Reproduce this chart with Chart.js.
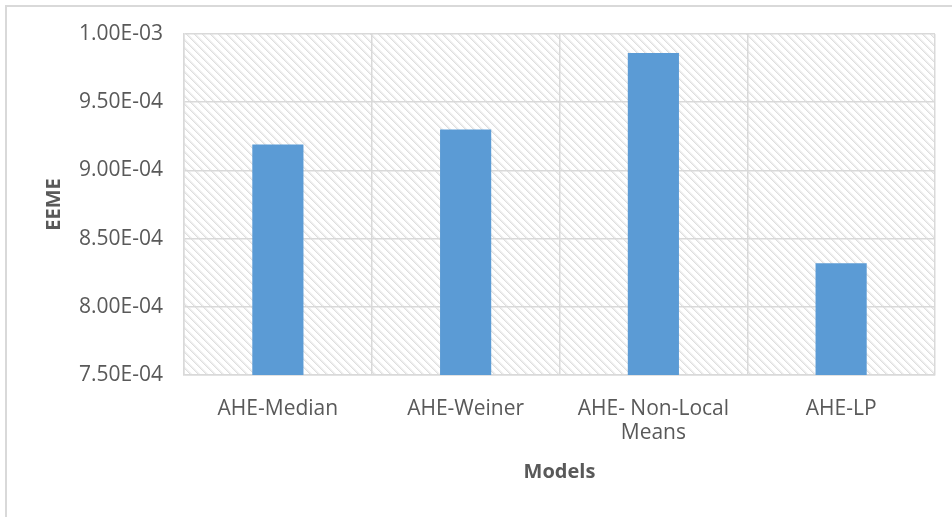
<!DOCTYPE html>
<html>
<head>
<meta charset="utf-8">
<script src="https://cdn.jsdelivr.net/npm/chart.js@4"></script>
<style>
  html, body { margin: 0; padding: 0; background: #fff; }
  #wrap { position: relative; width: 952px; height: 517px; }
  #frame { position: absolute; left: 5px; top: 5px; width: 960px; height: 530px; border: 2px solid #d9d9d9; box-sizing: border-box; pointer-events: none; }
</style>
</head>
<body>
<div id="wrap">
  <canvas id="c" width="952" height="517"></canvas>
  <div id="frame"></div>
</div>
<script>
// Models compared and their EEME scores
const models = ['AHE-Median', 'AHE-Weiner', ['AHE- Non-Local', 'Means'], 'AHE-LP'];
const eemeValues = [9.19e-4, 9.30e-4, 9.86e-4, 8.32e-4];
const yTicks = [7.5e-4, 8.0e-4, 8.5e-4, 9.0e-4, 9.5e-4, 1.0e-3];

const textColor = '#595959';
const gridColor = '#d9d9d9';
const fontFamily = '"Open Sans", "Liberation Sans", sans-serif';

// Downward diagonal hatch used as plot-area fill
function makeHatch() {
  const size = 8;
  const pc = document.createElement('canvas');
  pc.width = size; pc.height = size;
  const p = pc.getContext('2d');
  p.fillStyle = '#ffffff';
  p.fillRect(0, 0, size, size);
  for (let y = 0; y < size; y++) {
    for (let x = 0; x < size; x++) {
      const d = ((x - y) % size + size) % size;
      if (d === 0) { p.fillStyle = '#dedede'; p.fillRect(x, y, 1, 1); }
      else if (d === 1) { p.fillStyle = ((x + y) % 2 === 0) ? '#e2e2e2' : '#eeeeee'; p.fillRect(x, y, 1, 1); }
      else if (d === 2) { p.fillStyle = '#f3f3f3'; p.fillRect(x, y, 1, 1); }
    }
  }
  return pc;
}

const hatchBackground = {
  id: 'hatchBackground',
  beforeDraw(chart) {
    const { ctx, chartArea: a } = chart;
    ctx.save();
    ctx.fillStyle = ctx.createPattern(makeHatch(), 'repeat');
    ctx.fillRect(a.left, a.top, a.right - a.left, a.bottom - a.top);
    ctx.restore();
  }
};

new Chart(document.getElementById('c'), {
  type: 'bar',
  data: {
    labels: models,
    datasets: [{
      data: eemeValues,
      backgroundColor: '#5b9bd5',
      borderWidth: 0,
      barPercentage: 0.545,
      categoryPercentage: 0.5
    }]
  },
  options: {
    responsive: false,
    animation: false,
    layout: { padding: { left: 0, top: 34, right: 17, bottom: 0 } },
    plugins: { legend: { display: false }, tooltip: { enabled: false } },
    scales: {
      x: {
        grid: { color: gridColor, lineWidth: 1.5, drawTicks: false, offset: true },
        border: { color: gridColor, width: 1.5 },
        ticks: { color: textColor, font: { family: fontFamily, size: 21, lineHeight: 1.15 }, padding: 22, maxRotation: 0, autoSkip: false },
        title: { display: true, text: 'Models', color: textColor, font: { family: fontFamily, size: 20, weight: 'bold' }, padding: { top: 0, bottom: 33 } },
        afterFit(scale) { scale.height = 142; }
      },
      y: {
        min: 7.5e-4,
        max: 1.0e-3,
        afterBuildTicks(scale) { scale.ticks = yTicks.map(v => ({ value: v })); },
        grid: { color: gridColor, lineWidth: 1.5, drawTicks: false },
        border: { color: gridColor, width: 1.5 },
        ticks: {
          color: textColor,
          font: { family: fontFamily, size: 21 },
          padding: 21,
          callback(v) {
            const [m, e] = Number(v).toExponential(2).split('e');
            const exp = parseInt(e, 10);
            const sign = exp < 0 ? '-' : '+';
            return m + 'E' + sign + String(Math.abs(exp)).padStart(2, '0');
          }
        },
        title: { display: true, text: 'EEME', color: textColor, font: { family: fontFamily, size: 20, weight: 'bold' }, padding: { top: 42, bottom: 0 } },
        afterFit(scale) { scale.width = 184; }
      }
    }
  },
  plugins: [hatchBackground]
});
</script>
</body>
</html>
